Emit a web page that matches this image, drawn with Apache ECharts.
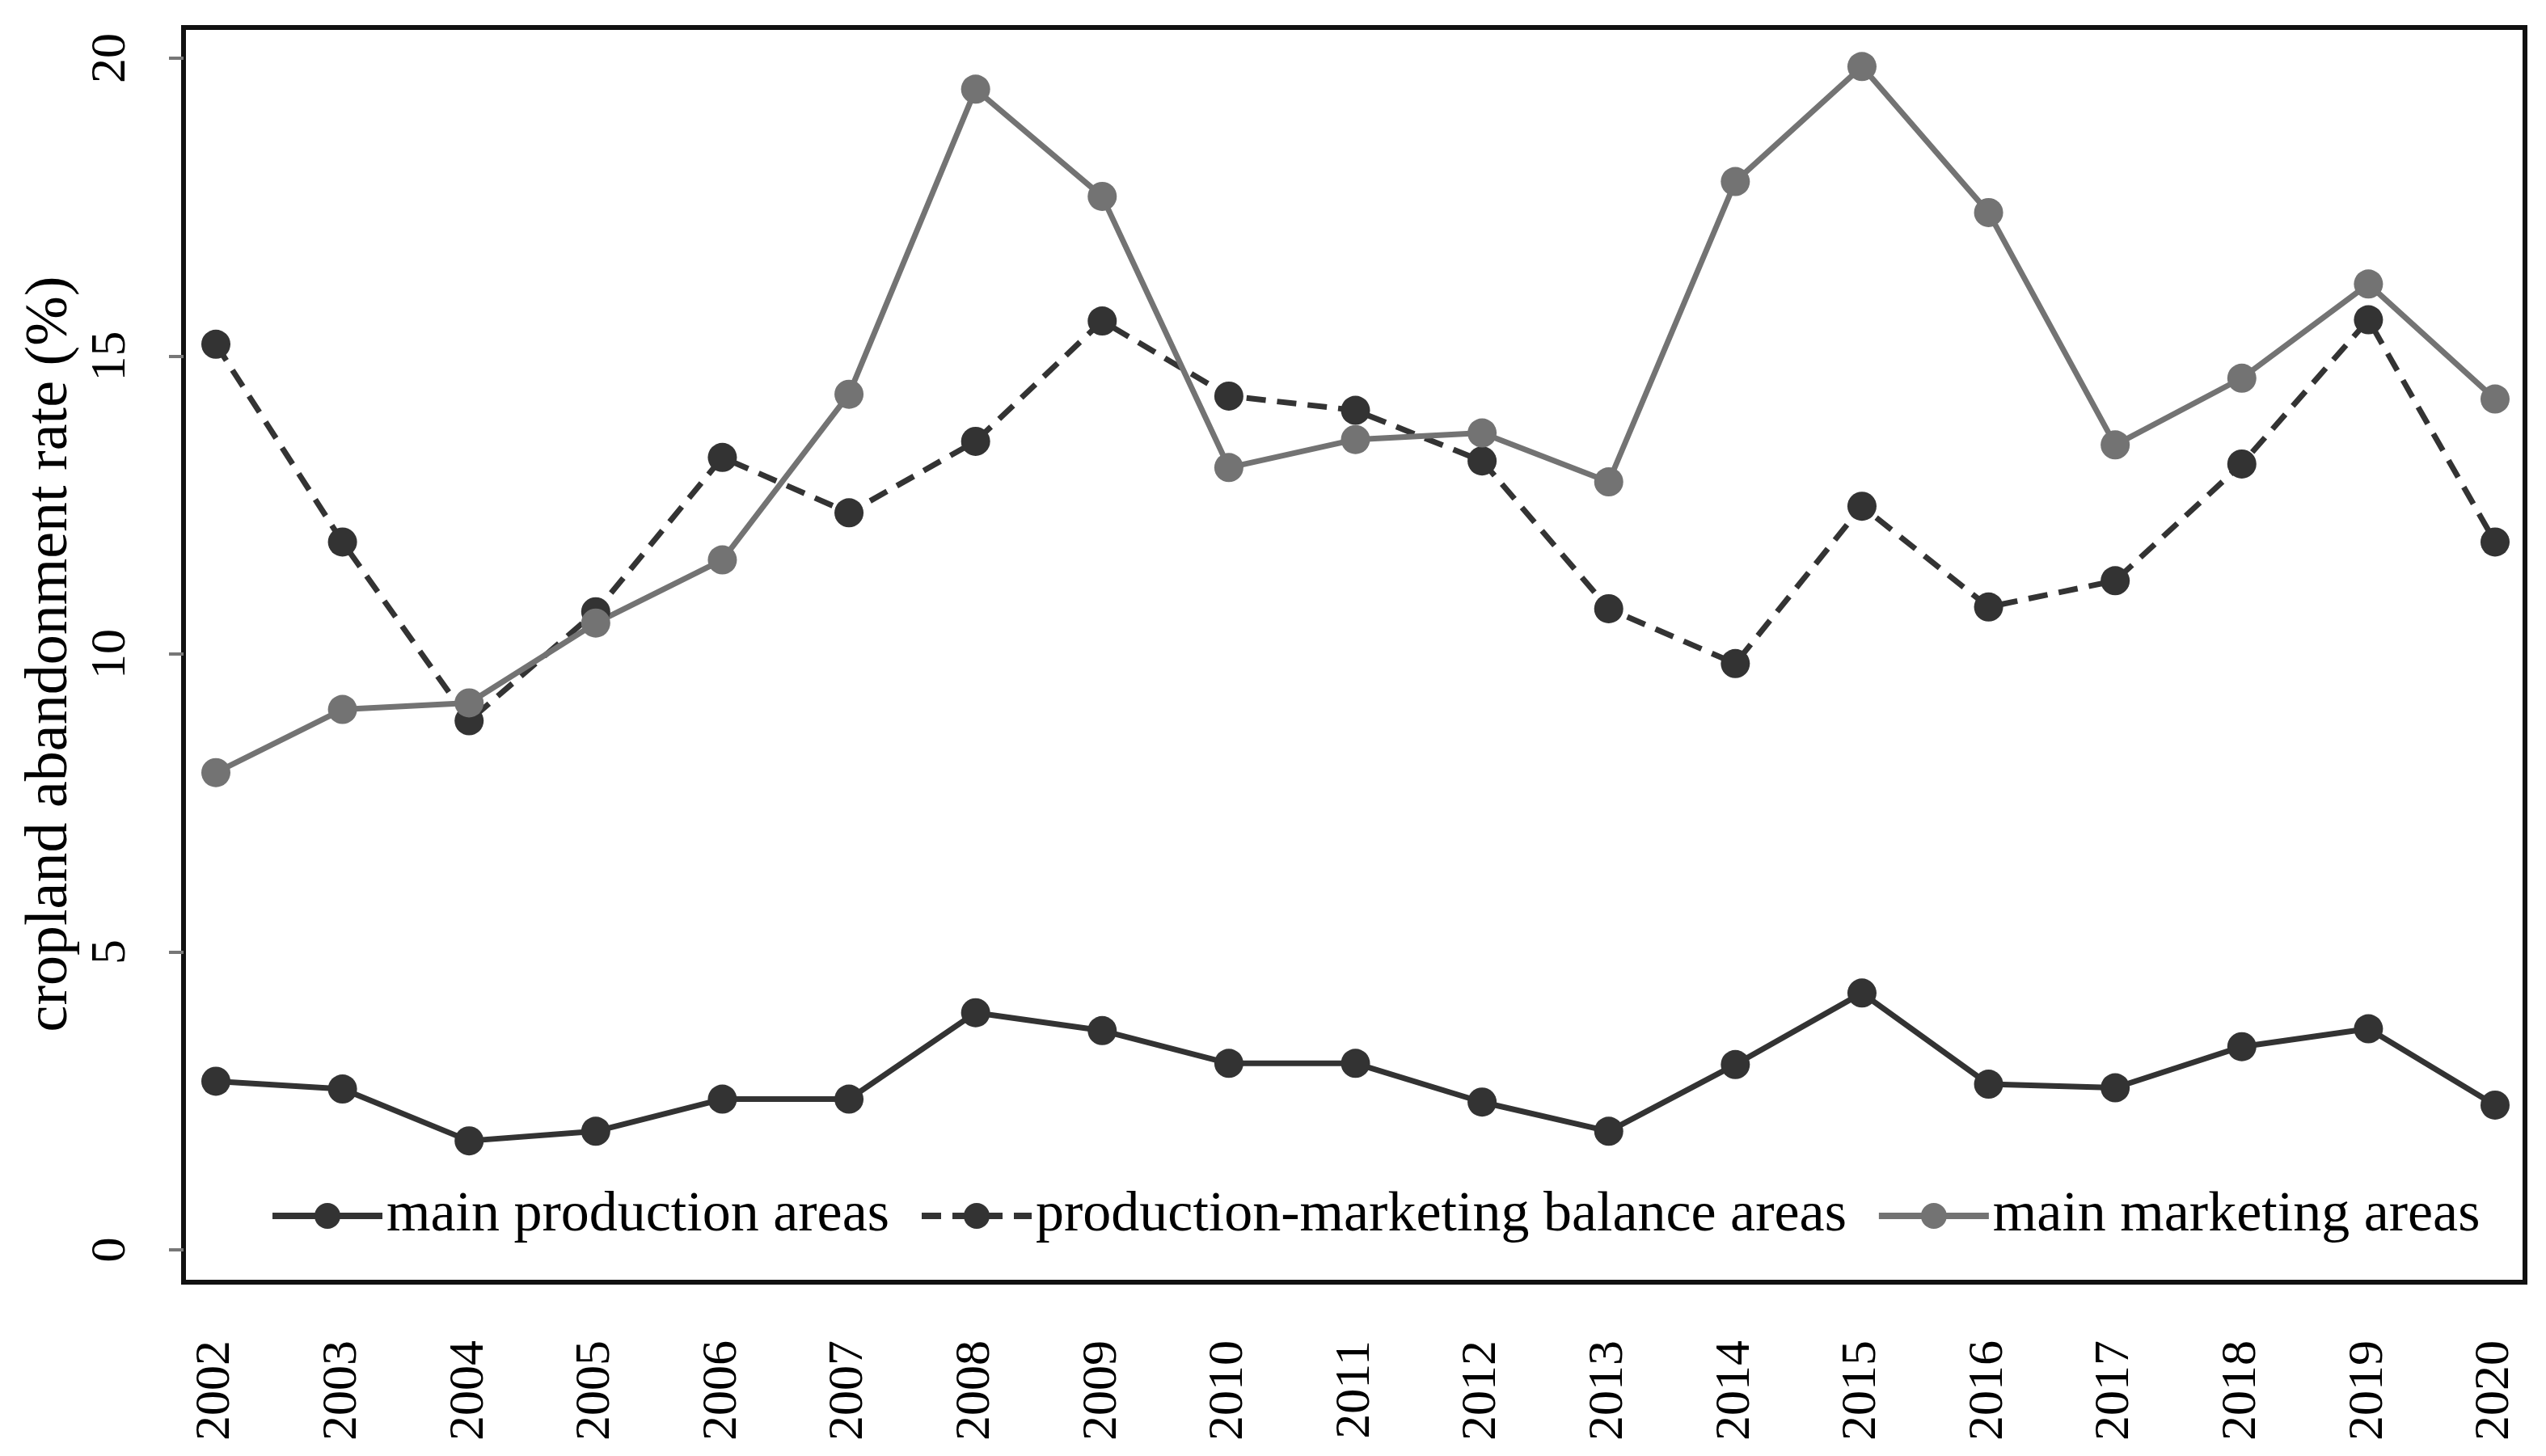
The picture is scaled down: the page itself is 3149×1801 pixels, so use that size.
<!DOCTYPE html>
<html>
<head>
<meta charset="utf-8">
<script src="https://cdn.jsdelivr.net/npm/echarts@6/dist/echarts.min.js"></script>
<style>
html,body{margin:0;padding:0;background:#fff;}
#c{width:3149px;height:1801px;}
</style>
</head>
<body>
<div id="c"></div>
<script>
const years = ['2002','2003','2004','2005','2006','2007','2008','2009','2010','2011','2012','2013','2014','2015','2016','2017','2018','2019','2020'];
const mainProduction = [2.83,2.70,1.83,1.99,2.53,2.53,3.98,3.68,3.13,3.13,2.48,1.99,3.11,4.31,2.78,2.72,3.41,3.71,2.43];
const balanceAreas = [15.20,11.88,8.88,10.71,13.30,12.37,13.57,15.59,14.33,14.09,13.24,10.76,9.84,12.48,10.79,11.23,13.19,15.61,11.88];
const mainMarketing = [8.01,9.07,9.18,10.52,11.58,14.36,19.48,17.68,13.13,13.60,13.71,12.89,17.93,19.86,17.41,13.51,14.63,16.21,14.28];
const yTicks = [0,5,10,15,20];
const seriesNames = ['main production areas','production-marketing balance areas','main marketing areas'];

const FONT = 'Liberation Serif';
const chart = echarts.init(document.getElementById('c'), null, {renderer:'canvas'});
chart.setOption({
  animation:false,
  backgroundColor:'#fff',
  grid:[
    {left:227, top:34, width:2896, height:1552, show:true, borderColor:'#111', borderWidth:6, backgroundColor:'#fff'},
    {left:267, right:63, top:72, bottom:255}
  ],
  xAxis:[
    {gridIndex:0, type:'value', show:false},
    {gridIndex:1, type:'category', data:years, boundaryGap:false, offset:40,
     axisLine:{show:false}, axisTick:{show:false},
     axisLabel:{rotate:90, margin:72, fontFamily:FONT, fontSize:62, color:'#000'}}
  ],
  yAxis:[
    {gridIndex:0, type:'value', show:false},
    {gridIndex:1, type:'value', min:0, max:20, interval:5, offset:40,
     axisLine:{show:false},
     axisTick:{show:true, length:18, lineStyle:{color:'#777', width:4}},
     axisLabel:{rotate:90, margin:58, fontFamily:FONT, fontSize:62, color:'#000',
       formatter:function(v){return yTicks.indexOf(v)>=0?String(v):'';}},
     splitLine:{show:false},
     name:'cropland abandonment rate (%)', nameLocation:'middle', nameGap:116,
     nameTextStyle:{fontFamily:FONT, fontSize:74, color:'#000'}}
  ],
  legend:{
    data:seriesNames, left:328, top:1464, itemWidth:136, itemHeight:40, itemGap:36,
    lineStyle:{width:8},
    textStyle:{fontFamily:FONT, fontSize:70, color:'#000', padding:[0,0,0,0]}
  },
  series:[
    {name:seriesNames[0], type:'line', xAxisIndex:1, yAxisIndex:1, data:mainProduction,
     symbol:'circle', symbolSize:36, lineStyle:{color:'#333', width:7},
     itemStyle:{color:'#333'}},
    {name:seriesNames[1], type:'line', xAxisIndex:1, yAxisIndex:1, data:balanceAreas,
     symbol:'circle', symbolSize:36, lineStyle:{color:'#333', width:7, type:[24,14]},
     itemStyle:{color:'#333'}},
    {name:seriesNames[2], type:'line', xAxisIndex:1, yAxisIndex:1, data:mainMarketing,
     symbol:'circle', symbolSize:36, lineStyle:{color:'#737373', width:7},
     itemStyle:{color:'#737373'}}
  ]
});
</script>
</body>
</html>
